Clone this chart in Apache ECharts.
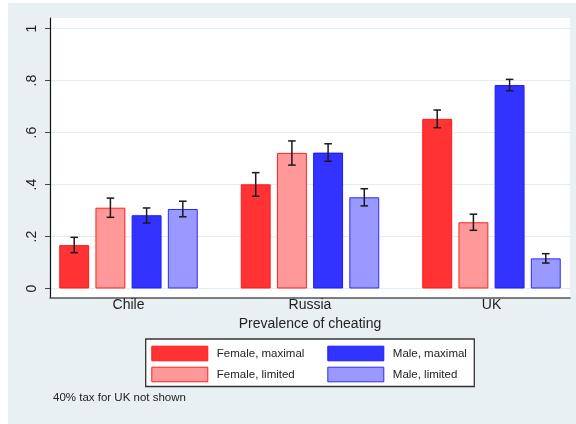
<!DOCTYPE html>
<html>
<head>
<meta charset="utf-8">
<script src="https://cdn.jsdelivr.net/npm/echarts@6/dist/echarts.min.js"></script>
<style>
  html, body { margin: 0; padding: 0; background: #ffffff; }
  #wrap { position: relative; width: 576px; height: 424px; overflow: hidden; }
  #bg { position: absolute; left: 8px; top: 3px; right: 0; bottom: 0; background: #e9f0f3; }
  #chart { position: absolute; left: 0; top: 0; width: 576px; height: 424px; }
</style>
</head>
<body>
<div id="wrap"><div id="bg"></div><div id="chart"></div></div>
<script>
// Categories and group labels
const countries = ['Chile', 'Russia', 'UK'];
const seriesNames = ['Female, maximal', 'Female, limited', 'Male, maximal', 'Male, limited'];

// Mean share per group
const femaleMaximal = [0.167, 0.401, 0.653];
const femaleLimited = [0.311, 0.522, 0.255];
const maleMaximal   = [0.282, 0.523, 0.783];
const maleLimited   = [0.306, 0.351, 0.116];

// Confidence interval bounds
const femaleMaximalLo = [0.138, 0.355, 0.619];
const femaleMaximalHi = [0.197, 0.446, 0.687];
const femaleLimitedLo = [0.274, 0.475, 0.224];
const femaleLimitedHi = [0.348, 0.568, 0.286];
const maleMaximalLo   = [0.252, 0.490, 0.761];
const maleMaximalHi   = [0.310, 0.557, 0.805];
const maleLimitedLo   = [0.276, 0.318, 0.098];
const maleLimitedHi   = [0.336, 0.384, 0.134];

// Y-axis ticks
const yTicks = [0, 0.2, 0.4, 0.6, 0.8, 1];

const means = [femaleMaximal, femaleLimited, maleMaximal, maleLimited];
const lows  = [femaleMaximalLo, femaleLimitedLo, maleMaximalLo, maleLimitedLo];
const highs = [femaleMaximalHi, femaleLimitedHi, maleMaximalHi, maleLimitedHi];

const fills   = ['#ff3333', '#ff9999', '#3333ff', '#9999ff'];
const borders = ['#ff1a1a', '#ff2020', '#1a1aff', '#2a2aff'];

const CAT_GAP = 0.237;
const BAR_GAP = 0.21;

const errData = [];
for (let s = 0; s < 4; s++) {
  for (let c = 0; c < countries.length; c++) {
    errData.push([c, s, lows[s][c], highs[s][c]]);
  }
}

const chart = echarts.init(document.getElementById('chart'), null, { renderer: 'canvas' });

const FONT = 'Liberation Sans, Arial, Helvetica, sans-serif';

const barSeries = seriesNames.map((name, s) => ({
  name: name,
  type: 'bar',
  xAxisIndex: 2,
  yAxisIndex: 2,
  data: means[s],
  barCategoryGap: (CAT_GAP * 100) + '%',
  barGap: (BAR_GAP * 100) + '%',
  itemStyle: { color: fills[s], borderColor: borders[s], borderWidth: 1 },
  emphasis: { disabled: true },
  animation: false
}));

const errorSeries = {
  type: 'custom',
  xAxisIndex: 2,
  yAxisIndex: 2,
  data: errData,
  encode: { x: 0, y: [2, 3] },
  animation: false,
  z: 5,
  renderItem: function (params, api) {
    const cat = api.value(0);
    const s = api.value(1);
    const band = api.size([1, 0])[0];
    const gw = band * (1 - CAT_GAP);
    const w = gw / (4 + 3 * BAR_GAP);
    const cx = api.coord([cat, 0])[0] - gw / 2 + w / 2 + s * w * (1 + BAR_GAP);
    const yLo = api.coord([cat, api.value(2)])[1];
    const yHi = api.coord([cat, api.value(3)])[1];
    const hw = 3.8;
    const st = { stroke: '#1a1a1a', lineWidth: 1.5 };
    return {
      type: 'group',
      children: [
        { type: 'line', shape: { x1: cx, y1: yLo, x2: cx, y2: yHi }, style: st },
        { type: 'line', shape: { x1: cx - hw, y1: yLo, x2: cx + hw, y2: yLo }, style: st },
        { type: 'line', shape: { x1: cx - hw, y1: yHi, x2: cx + hw, y2: yHi }, style: st }
      ]
    };
  }
};

const legendBase = {
  orient: 'vertical',
  top: 345.7,
  padding: 0,
  itemWidth: 56,
  itemHeight: 14.6,
  itemGap: 5.4,
  icon: 'rect',
  selectedMode: false,
  textStyle: { fontFamily: FONT, fontSize: 11.5, color: '#222', padding: [0, 0, 0, 4] }
};

const option = {
  animation: false,
  textStyle: { fontFamily: FONT },
  title: {
    text: '40% tax for UK not shown',
    left: 53,
    top: 392,
    padding: 0,
    textStyle: { fontFamily: FONT, fontSize: 11.5, fontWeight: 'normal', color: '#222' }
  },
  graphic: [{
    type: 'rect',
    shape: { x: 145.7, y: 339, width: 328.6, height: 47.5 },
    style: { fill: '#ffffff', stroke: '#333333', lineWidth: 1.3 },
    z: -1
  }],
  legend: [
    Object.assign({}, legendBase, {
      left: 151.3,
      data: [
        { name: seriesNames[0], itemStyle: { color: fills[0], borderColor: borders[0], borderWidth: 1 } },
        { name: seriesNames[1], itemStyle: { color: fills[1], borderColor: borders[1], borderWidth: 1 } }
      ]
    }),
    Object.assign({}, legendBase, {
      left: 327.3,
      data: [
        { name: seriesNames[2], itemStyle: { color: fills[2], borderColor: borders[2], borderWidth: 1 } },
        { name: seriesNames[3], itemStyle: { color: fills[3], borderColor: borders[3], borderWidth: 1 } }
      ]
    })
  ],
  grid: [
    // plot region frame
    { left: 50, right: 6, top: 18, bottom: 126.5, show: true, backgroundColor: '#ffffff', borderWidth: 0, outerBoundsMode: 'none' },
    // value scale with ticks and gridlines
    { left: 50, right: 6, top: 28.7, bottom: 135.5, outerBoundsMode: 'none' },
    // bars (bands are wider than the frame so the outer groups sit inside it)
    { left: 37.75, width: 544.5, top: 28.7, bottom: 135.5, outerBoundsMode: 'none' }
  ],
  xAxis: [
    {
      gridIndex: 0, type: 'value', min: 0, max: 1,
      axisLine: { show: true, onZero: false, lineStyle: { color: '#555', width: 1.6 } },
      axisTick: { show: false }, axisLabel: { show: false }, splitLine: { show: false }
    },
    { gridIndex: 1, type: 'value', min: 0, max: 1, show: false },
    {
      gridIndex: 2, type: 'category', data: countries,
      axisLine: { show: false }, axisTick: { show: false },
      axisLabel: { fontFamily: FONT, fontSize: 14, color: '#222', margin: 10 },
      name: 'Prevalence of cheating',
      nameLocation: 'middle',
      nameGap: 26,
      nameTextStyle: { fontFamily: FONT, fontSize: 14, color: '#222' }
    }
  ],
  yAxis: [
    {
      gridIndex: 0, type: 'value', min: 0, max: 1,
      axisLine: { show: true, onZero: false, lineStyle: { color: '#111', width: 1.2 } },
      axisTick: { show: false }, axisLabel: { show: false }, splitLine: { show: false }
    },
    {
      gridIndex: 1, type: 'value', min: yTicks[0], max: yTicks[yTicks.length - 1], interval: 0.2,
      axisLine: { show: false },
      axisTick: { show: true, length: 5, lineStyle: { color: '#444', width: 1 } },
      axisLabel: {
        rotate: 90, margin: 11, fontFamily: FONT, fontSize: 14, color: '#222',
        formatter: function (v) {
          if (v === 0) return '0';
          if (v === 1) return '1';
          return v.toFixed(1).replace(/^0/, '');
        }
      },
      splitLine: { show: true, lineStyle: { color: '#e3ecef', width: 1 } }
    },
    { gridIndex: 2, type: 'value', min: 0, max: 1, show: false }
  ],
  series: barSeries.concat([errorSeries])
};

chart.setOption(option);
</script>
</body>
</html>
